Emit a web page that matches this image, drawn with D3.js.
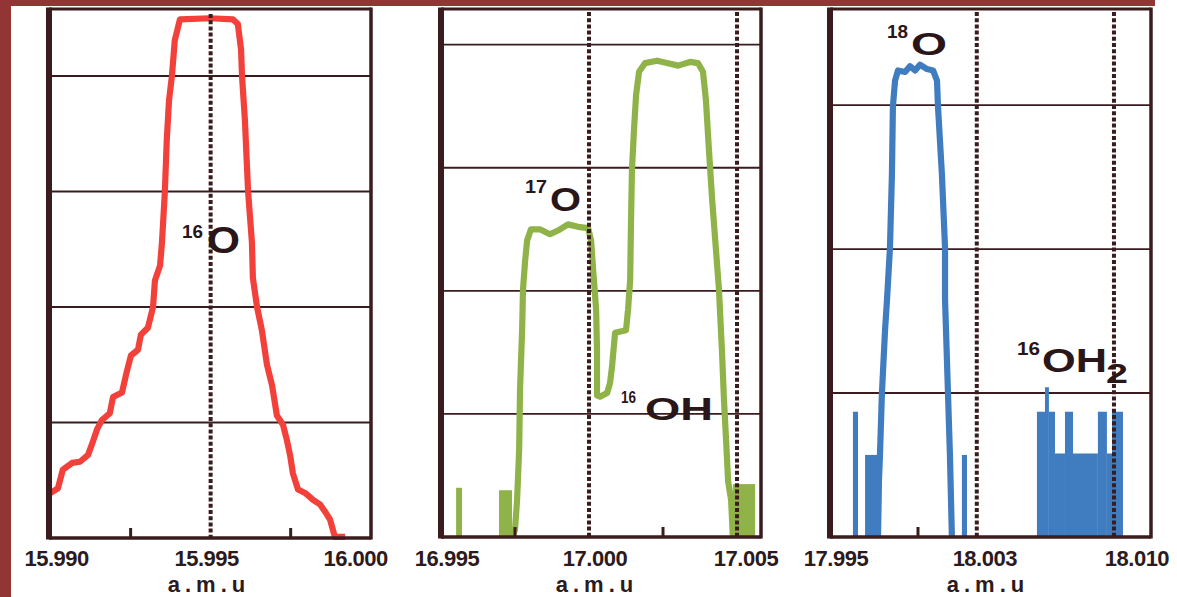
<!DOCTYPE html>
<html><head><meta charset="utf-8">
<script src="https://cdn.jsdelivr.net/npm/d3@7"></script>
<style>html,body{margin:0;padding:0;background:#fff;overflow:hidden}svg{display:block}</style>
</head><body>
<svg id="chart" width="1177" height="597"></svg>
<script>
// ---------------- DATA ----------------
// Panel 1 : 16O peak (red trace)
const o16Amu = [15.9900,15.99023,15.99038,15.99067,15.99092,15.99117,15.99129,15.99145,15.99160,15.99185,15.99195,15.99223,15.99238,15.99251,15.99273,15.99282,15.99304,15.99320,15.99326,15.99342,15.99348,15.99357,15.99363,15.99370,15.99379,15.99388,15.99404,15.99498,15.99570,15.99585,15.99595,15.99598,15.99607,15.99617,15.99629,15.99632,15.99645,15.99660,15.99676,15.99692,15.99707,15.99726,15.99738,15.99748,15.99757,15.99773,15.99795,15.99820,15.99842,15.99857,15.99873,15.99882,15.99888,15.99920];
const o16Int = [0.39,0.43,0.59,0.65,0.66,0.72,0.81,0.94,1.02,1.08,1.22,1.26,1.44,1.58,1.63,1.76,1.82,2.00,2.23,2.36,2.56,3.00,3.45,3.79,4.00,4.31,4.49,4.50,4.49,4.45,4.23,4.00,3.62,3.00,2.56,2.25,2.00,1.80,1.50,1.32,1.06,0.98,0.85,0.72,0.56,0.42,0.39,0.33,0.29,0.23,0.16,0.07,0.01,0.01];

// Panel 2 : 17O + 16OH (green trace)
const o17Amu = [16.99740,16.99750,16.99757,16.99764,16.99767,16.99774,16.99777,16.99784,16.99791,16.99804,16.99834,16.99868,16.99895,16.99929,16.99963,16.99997,17.00007,17.00014,17.00024,17.00027,17.00027,17.00037,17.00061,17.00071,17.00078,17.00088,17.00125,17.00132,17.00139,17.00142,17.00145,17.00152,17.00159,17.00169,17.00189,17.00230,17.00267,17.00301,17.00341,17.00368,17.00385,17.00395,17.00405,17.00416,17.00429,17.00439,17.00449,17.00456,17.00463,17.00470,17.00480,17.00486];
const o17Int = [0,0.06,0.30,0.71,1.20,1.68,2.01,2.24,2.41,2.50,2.50,2.46,2.49,2.54,2.52,2.51,2.41,2.17,1.85,1.52,1.15,1.14,1.17,1.25,1.39,1.66,1.68,1.85,2.09,2.58,2.98,3.31,3.59,3.78,3.85,3.87,3.85,3.83,3.86,3.85,3.78,3.55,3.15,2.74,2.33,2.01,1.52,1.11,0.79,0.45,0.30,0];
const o17BarStart = [16.99551,16.99696,17.00486];
const o17BarEnd   = [16.99571,16.99740,17.00561];
const o17BarInt   = [0.40,0.38,0.43];

// Panel 3 : 18O + 16OH2 (blue trace)
const o18Amu = [17.99796,17.99801,17.99806,17.99816,17.99832,17.99842,17.99857,17.99867,17.99872,17.99883,17.99898,17.99934,17.99959,17.99985,18.00010,18.00046,18.00077,18.00097,18.00102,18.00122,18.00138,18.00138,18.00153,18.00163,18.00173];
const o18Int = [0,0.40,0.57,1.00,1.44,1.65,2.01,2.52,2.99,3.17,3.24,3.23,3.27,3.24,3.28,3.25,3.24,3.17,2.99,2.52,2.01,1.65,1.00,0.57,0];
const o18BarStart = [17.99668,17.99730,18.00224,18.00607,18.00648,18.00668,18.00699,18.00750,18.00791,18.00918,18.00964,18.00990];
const o18BarEnd   = [17.99694,17.99806,18.00250,18.00648,18.00668,18.00699,18.00750,18.00791,18.00918,18.00964,18.00990,18.01046];
const o18BarInt   = [0.87,0.57,0.57,0.87,1.04,0.87,0.58,0.87,0.58,0.87,0.58,0.87];

// Axes
const xDomains = [[15.98995,16.00001],[16.995,17.00581],[17.99551,18.01189]];
const yMax = [4.58,4.29,3.667];
const gridValues = [[1,2,3,4],[1,2,3,4],[1,2,3]];
const dottedValues = [[15.995],[17.000,17.005],[18.003,18.010]];
const minorTicks = [[15.9925,15.9975],[16.9975,17.0025],[18.000]];
const tickValues = [[15.990,15.995,16.000],[16.995,17.000,17.005],[17.995,18.003,18.010]];
const tickLabels = [["15.990","15.995","16.000"],["16.995","17.000","17.005"],["17.995","18.003","18.010"]];
const axisTitle = "a.m.u";

// Peak annotations
const peakPanel = [0,1,1,2,2];
const peakSup  = ["16","17","16","18","16"];
const peakMain = ["O","O","OH","O","OH"];
const peakSub  = ["","","","","2"];

// ---------------- LAYOUT / STYLE ----------------
const frames = [
  {left:49, right:371, top:9, bottom:538},
  {left:441, right:761, top:9, bottom:537},
  {left:830, right:1151, top:9, bottom:537}
];
const colors = ["#f2413a","#8fb348","#3f7cc0"];
const ink = "#3a1c1f";
const labelNudge = [[6,-4,-15],[6,6,9],[16,8,23]];
const axisTitleX = [209,597,988];
const dottedTop = [14,12,12];
const peakLayout = [
  {sx:182, sy:238, ss:18, sw:21, mx:207, my:253, ms:36, mw:33},
  {sx:525, sy:193, ss:18, sw:22, mx:550, my:211, ms:33, mw:31},
  {sx:621, sy:403, ss:16, sw:15, mx:645, my:420, ms:32, mw:68},
  {sx:887, sy:38,  ss:18, sw:21, mx:911, my:55,  ms:32, mw:36},
  {sx:1017, sy:355, ss:18, sw:23, mx:1042, my:372, ms:34, mw:65, bx:1106, by:383, bs:27, bw:22}
];

// ---------------- DRAW ----------------
const svg = d3.select("#chart");
svg.append("rect").attr("x",0).attr("y",0).attr("width",1177).attr("height",597).attr("fill","#ffffff");
svg.append("rect").attr("x",0).attr("y",0).attr("width",11).attr("height",597).attr("fill","#943535");
svg.append("rect").attr("x",0).attr("y",0).attr("width",1155).attr("height",6).attr("fill","#943535");

const lines = [
  {amu:o16Amu, val:o16Int},
  {amu:o17Amu, val:o17Int},
  {amu:o18Amu, val:o18Int}
];
const bars = [
  [],
  o17BarStart.map((s,i)=>({s, e:o17BarEnd[i], v:o17BarInt[i]})),
  o18BarStart.map((s,i)=>({s, e:o18BarEnd[i], v:o18BarInt[i]}))
];

frames.forEach((f,p)=>{
  const x = d3.scaleLinear().domain(xDomains[p]).range([f.left,f.right]);
  const y = d3.scaleLinear().domain([0,yMax[p]]).range([f.bottom,f.top]);
  const g = svg.append("g");

  g.selectAll("line.grid").data(gridValues[p]).join("line")
    .attr("x1",f.left).attr("x2",f.right)
    .attr("y1",d=>y(d)).attr("y2",d=>y(d))
    .attr("stroke",ink).attr("stroke-width",1.8);

  g.selectAll("rect.bar").data(bars[p]).join("rect")
    .attr("x",d=>x(d.s)).attr("width",d=>x(d.e)-x(d.s))
    .attr("y",d=>y(d.v)).attr("height",d=>y(0)-y(d.v))
    .attr("fill",colors[p]);

  const pts = lines[p].amu.map((a,i)=>[a, lines[p].val[i]]);
  g.append("path").datum(pts)
    .attr("d", d3.line().x(d=>x(d[0])).y(d=>y(d[1])))
    .attr("fill","none").attr("stroke",colors[p]).attr("stroke-width",6.2)
    .attr("stroke-linejoin","round").attr("stroke-linecap","butt");

  g.selectAll("line.dot").data(dottedValues[p]).join("line")
    .attr("x1",d=>x(d)).attr("x2",d=>x(d))
    .attr("y1",dottedTop[p]).attr("y2",f.bottom)
    .attr("stroke",ink).attr("stroke-width",4)
    .attr("stroke-dasharray","4,2.2");

  g.selectAll("line.minor").data(minorTicks[p]).join("line")
    .attr("x1",d=>x(d)).attr("x2",d=>x(d))
    .attr("y1",f.bottom).attr("y2",f.bottom-10)
    .attr("stroke",ink).attr("stroke-width",3);

  g.append("line").attr("x1",f.left).attr("x2",f.left).attr("y1",f.top-1.5).attr("y2",f.bottom+1.5)
    .attr("stroke",ink).attr("stroke-width",6);
  g.append("line").attr("x1",f.right).attr("x2",f.right).attr("y1",f.top-1.5).attr("y2",f.bottom+1.5)
    .attr("stroke",ink).attr("stroke-width",3.5);
  g.append("line").attr("x1",f.left).attr("x2",f.right).attr("y1",f.top).attr("y2",f.top)
    .attr("stroke",ink).attr("stroke-width",3);
  g.append("line").attr("x1",f.left).attr("x2",f.right).attr("y1",f.bottom).attr("y2",f.bottom)
    .attr("stroke",ink).attr("stroke-width",3.5);

  g.selectAll("text.tick").data(tickValues[p]).join("text")
    .attr("x",(d,i)=>x(d)+labelNudge[p][i]).attr("y",566)
    .attr("text-anchor","middle")
    .attr("font-family","'Liberation Sans', Arial, sans-serif")
    .attr("font-weight","bold").attr("font-size",22)
    .attr("letter-spacing","-0.5")
    .attr("fill","#2c1a1c")
    .text((d,i)=>tickLabels[p][i]);

  g.append("text").attr("x",axisTitleX[p]).attr("y",592)
    .attr("text-anchor","middle")
    .attr("font-family","'Liberation Sans', Arial, sans-serif")
    .attr("font-weight","bold").attr("font-size",22)
    .attr("letter-spacing","5")
    .attr("fill","#2c1a1c")
    .text(axisTitle);
});

peakPanel.forEach((p,i)=>{
  const L = peakLayout[i];
  const fam = "'Liberation Sans', Arial, sans-serif";
  svg.append("text").attr("x",L.sx).attr("y",L.sy)
    .attr("font-family",fam).attr("font-weight","bold").attr("font-size",L.ss)
    .attr("textLength",L.sw).attr("lengthAdjust","spacingAndGlyphs")
    .attr("fill","#2a1618").text(peakSup[i]);
  svg.append("text").attr("x",L.mx).attr("y",L.my)
    .attr("font-family",fam).attr("font-weight","bold").attr("font-size",L.ms)
    .attr("textLength",L.mw).attr("lengthAdjust","spacingAndGlyphs")
    .attr("fill","#2a1618").text(peakMain[i]);
  if (peakSub[i]) {
    svg.append("text").attr("x",L.bx).attr("y",L.by)
      .attr("font-family",fam).attr("font-weight","bold").attr("font-size",L.bs)
      .attr("textLength",L.bw).attr("lengthAdjust","spacingAndGlyphs")
      .attr("fill","#2a1618").text(peakSub[i]);
  }
});
</script>
</body></html>
